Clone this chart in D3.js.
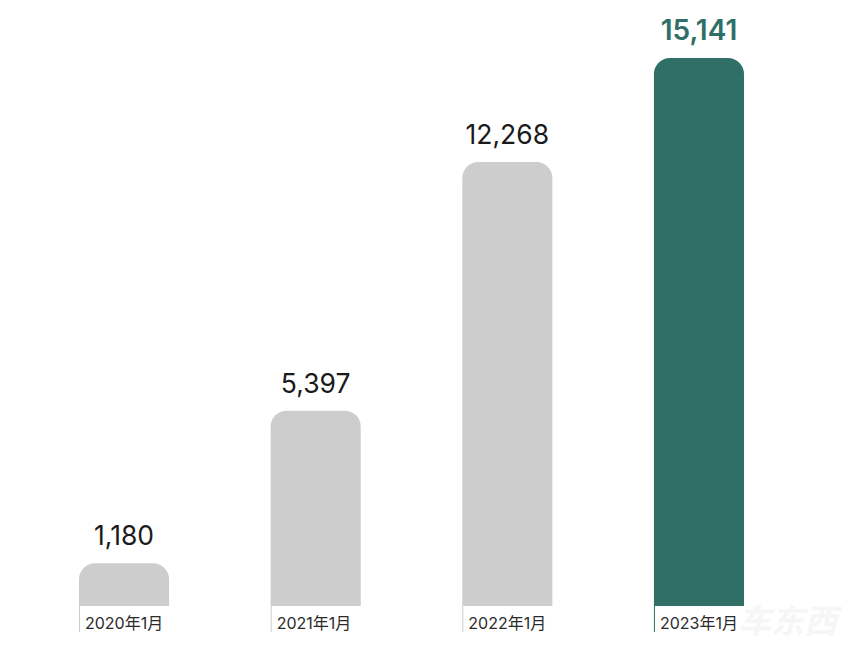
<!DOCTYPE html>
<html>
<head>
<meta charset="utf-8">
<script src="https://cdn.jsdelivr.net/npm/d3@7"></script>
<style>
html, body { margin: 0; padding: 0; background: #fff; }
svg { display: block; }
text { font-family: Inter, "Noto Sans CJK SC", sans-serif; }
</style>
</head>
<body>
<svg id="chart" width="850" height="649"></svg>
<script>
// chart data
var categories = ["2020年1月", "2021年1月", "2022年1月", "2023年1月"];
var values = [1180, 5397, 12268, 15141];
var highlightYear = "2023年1月";

var grey = "#cdcdcd";
var green = "#2f6f66";
var radius = 16;

var svg = d3.select("#chart");
var rows = categories.map((c, i) => ({ cat: c, val: values[i] }));

var x = d3.scaleBand().domain(categories).range([79, 744]).paddingInner(0.53).paddingOuter(0);
var y = d3.scaleLinear().domain([0, 15141]).range([606, 58]);

// bar with rounded top corners only
function barPath(d) {
    let p = d3.path();
    let x0 = x(d.cat), x1 = x0 + x.bandwidth();
    let top = y(d.val), base = y(0);
    p.moveTo(x0, base);
    p.lineTo(x0, top + radius);
    p.arcTo(x0, top, x0 + radius, top, radius);
    p.lineTo(x1 - radius, top);
    p.arcTo(x1, top, x1, top + radius, radius);
    p.lineTo(x1, base);
    p.closePath();
    return p.toString();
}

svg.selectAll("path.bar").data(rows).join("path")
    .attr("class", "bar")
    .attr("d", barPath)
    .attr("fill", d => d.cat === highlightYear ? green : grey);

// value labels
svg.selectAll("text.val").data(rows).join("text")
    .attr("class", "val")
    .attr("x", d => x(d.cat) + x.bandwidth() / 2)
    .attr("y", d => y(d.val) - 18)
    .attr("text-anchor", "middle")
    .attr("font-size", d => d.cat === highlightYear ? 28 : 26.5)
    .attr("font-weight", d => d.cat === highlightYear ? 600 : 400)
    .attr("fill", d => d.cat === highlightYear ? green : "#1a1a1a")
    .text(d => d3.format(",")(d.val));

// category ticks + labels
svg.selectAll("line.tick").data(rows).join("line")
    .attr("class", "tick")
    .attr("x1", d => x(d.cat) + 0.5)
    .attr("x2", d => x(d.cat) + 0.5)
    .attr("y1", y(0))
    .attr("y2", 632)
    .attr("stroke", d => d.cat === highlightYear ? green : grey)
    .attr("stroke-width", 1);

svg.selectAll("text.cat").data(rows).join("text")
    .attr("class", "cat")
    .attr("x", d => x(d.cat) + 6)
    .attr("y", 629)
    .attr("font-size", 16)
    .attr("fill", "#2b2b2b")
    .text(d => d.cat);

// faint watermark
svg.append("text")
    .attr("x", 738)
    .attr("y", 633)
    .attr("font-size", 33)
    .attr("font-weight", 700)
    .attr("font-style", "italic")
    .attr("fill", "#f6f6f6")
    .text("车东西");
</script>
</body>
</html>
